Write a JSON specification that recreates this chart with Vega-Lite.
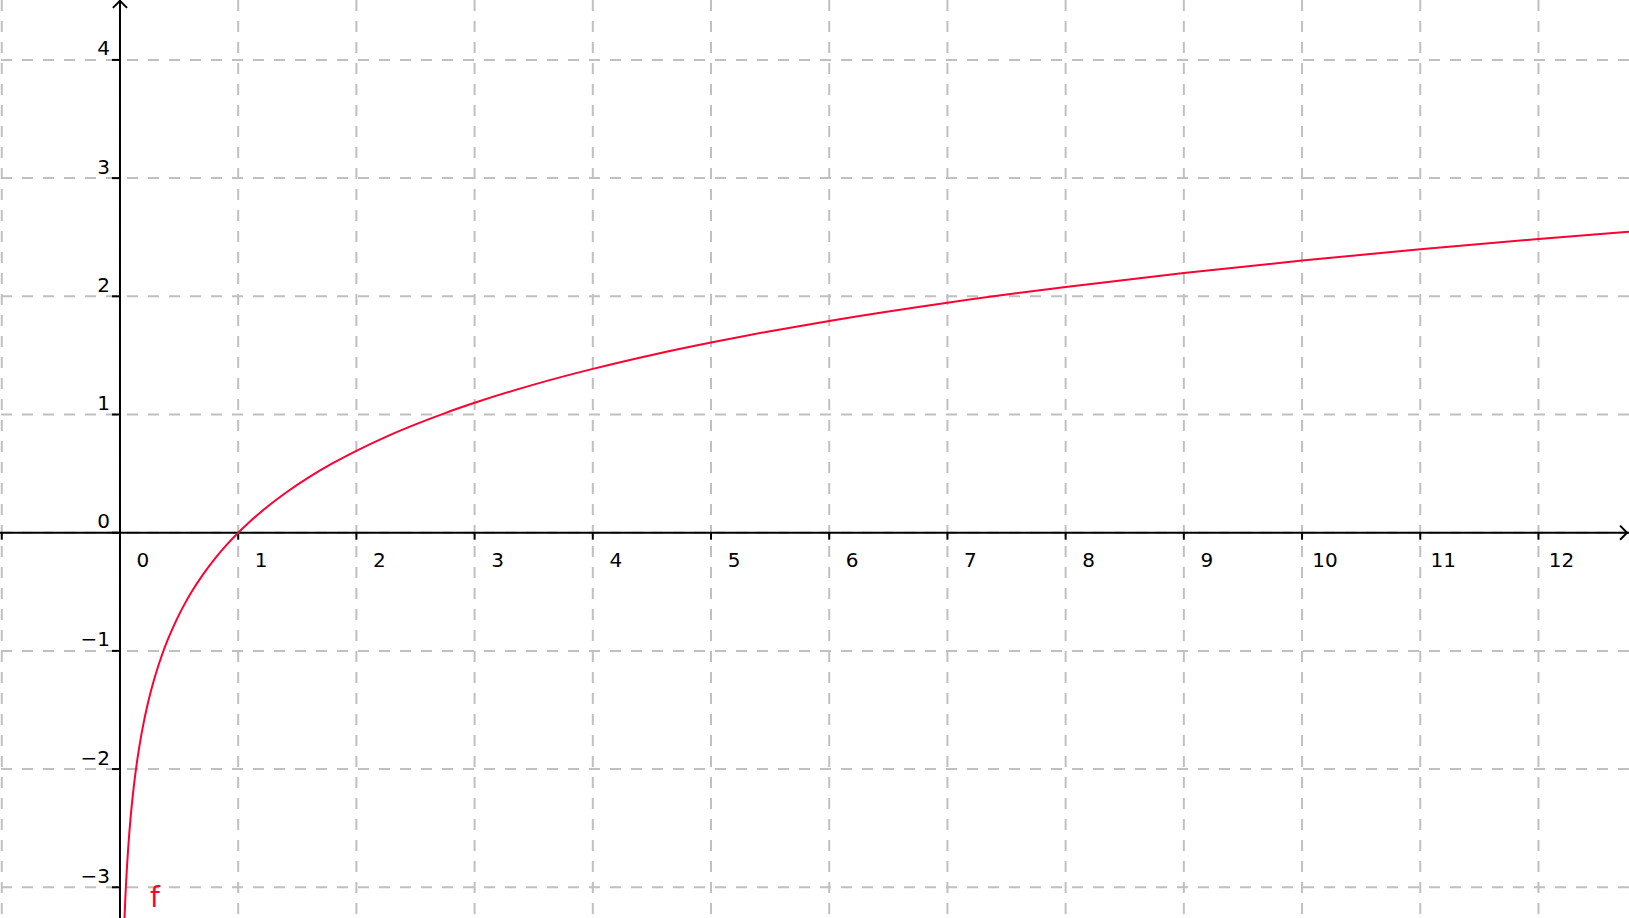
{
  "$schema": "https://vega.github.io/schema/vega-lite/v6.json",
  "width": 1629,
  "height": 918,
  "autosize": {"type": "none"},
  "padding": 0,
  "background": "white",
  "config": {"view": {"stroke": null}},
  "datasets": {
    "curve": [
      {"x": 0.0384, "y": -3.26}, {"x": 0.04, "y": -3.219}, {"x": 0.045, "y": -3.101}, {"x": 0.05, "y": -2.996},
      {"x": 0.055, "y": -2.900}, {"x": 0.06, "y": -2.813}, {"x": 0.07, "y": -2.659}, {"x": 0.08, "y": -2.526},
      {"x": 0.09, "y": -2.408}, {"x": 0.1, "y": -2.303}, {"x": 0.11, "y": -2.207}, {"x": 0.12, "y": -2.120},
      {"x": 0.14, "y": -1.966}, {"x": 0.16, "y": -1.833}, {"x": 0.18, "y": -1.715}, {"x": 0.2, "y": -1.609},
      {"x": 0.225, "y": -1.492}, {"x": 0.25, "y": -1.386}, {"x": 0.275, "y": -1.291}, {"x": 0.3, "y": -1.204},
      {"x": 0.35, "y": -1.050}, {"x": 0.4, "y": -0.916}, {"x": 0.45, "y": -0.799}, {"x": 0.5, "y": -0.693},
      {"x": 0.55, "y": -0.598}, {"x": 0.6, "y": -0.511}, {"x": 0.7, "y": -0.357}, {"x": 0.8, "y": -0.223},
      {"x": 0.9, "y": -0.105}, {"x": 1.0, "y": 0.0}, {"x": 1.1, "y": 0.095}, {"x": 1.2, "y": 0.182},
      {"x": 1.4, "y": 0.336}, {"x": 1.6, "y": 0.470}, {"x": 1.8, "y": 0.588}, {"x": 2.0, "y": 0.693},
      {"x": 2.25, "y": 0.811}, {"x": 2.5, "y": 0.916}, {"x": 2.75, "y": 1.012}, {"x": 3.0, "y": 1.099},
      {"x": 3.5, "y": 1.253}, {"x": 4.0, "y": 1.386}, {"x": 4.5, "y": 1.504}, {"x": 5.0, "y": 1.609},
      {"x": 5.5, "y": 1.705}, {"x": 6.0, "y": 1.792}, {"x": 7.0, "y": 1.946}, {"x": 8.0, "y": 2.079},
      {"x": 9.0, "y": 2.197}, {"x": 10.0, "y": 2.303}, {"x": 11.0, "y": 2.398}, {"x": 12.0, "y": 2.485},
      {"x": 12.8, "y": 2.549}
    ],
    "xticks": [
      {"x": -1, "label": ""}, {"x": 0, "label": "0"}, {"x": 1, "label": "1"}, {"x": 2, "label": "2"},
      {"x": 3, "label": "3"}, {"x": 4, "label": "4"}, {"x": 5, "label": "5"}, {"x": 6, "label": "6"},
      {"x": 7, "label": "7"}, {"x": 8, "label": "8"}, {"x": 9, "label": "9"}, {"x": 10, "label": "10"},
      {"x": 11, "label": "11"}, {"x": 12, "label": "12"}
    ],
    "yticks": [
      {"y": -3, "label": "−3"}, {"y": -2, "label": "−2"}, {"y": -1, "label": "−1"}, {"y": 0, "label": "0"},
      {"y": 1, "label": "1"}, {"y": 2, "label": "2"}, {"y": 3, "label": "3"}, {"y": 4, "label": "4"}
    ],
    "origin": [{"x": 0, "y": 0}],
    "arrowx": [{"x": 12.75, "y": 0}],
    "arrowy": [{"x": 0, "y": 4.5}],
    "flabel": [{"x": 0.254, "y": -3.164, "name": "f"}]
  },
  "layer": [
    {
      "data": {"name": "xticks"},
      "mark": {"type": "rule", "color": "#c0c0c0", "strokeWidth": 2, "strokeDash": [11, 10]},
      "encoding": {
        "x": {"field": "x", "type": "quantitative", "scale": {"domain": [-1.015, 12.766], "nice": false, "zero": false}, "axis": null}
      }
    },
    {
      "data": {"name": "yticks"},
      "mark": {"type": "rule", "color": "#c0c0c0", "strokeWidth": 2, "strokeDash": [11, 10]},
      "encoding": {
        "y": {"field": "y", "type": "quantitative", "scale": {"domain": [-3.26, 4.507], "nice": false, "zero": false}, "axis": null}
      }
    },
    {
      "data": {"name": "origin"},
      "mark": {"type": "rule", "color": "black", "strokeWidth": 2},
      "encoding": {
        "x": {"field": "x", "type": "quantitative", "scale": {"domain": [-1.015, 12.766], "nice": false, "zero": false}, "axis": null}
      }
    },
    {
      "data": {"name": "origin"},
      "mark": {"type": "rule", "color": "black", "strokeWidth": 2},
      "encoding": {
        "y": {"field": "y", "type": "quantitative", "scale": {"domain": [-3.26, 4.507], "nice": false, "zero": false}, "axis": null}
      }
    },
    {
      "data": {"name": "xticks"},
      "mark": {"type": "rule", "color": "black", "strokeWidth": 2, "y2Offset": 7},
      "encoding": {
        "x": {"field": "x", "type": "quantitative", "scale": {"domain": [-1.015, 12.766], "nice": false, "zero": false}, "axis": null},
        "y": {"datum": 0, "type": "quantitative", "scale": {"domain": [-3.26, 4.507], "nice": false, "zero": false}, "axis": null},
        "y2": {"datum": 0}
      }
    },
    {
      "data": {"name": "yticks"},
      "mark": {"type": "rule", "color": "black", "strokeWidth": 2, "x2Offset": -8},
      "encoding": {
        "y": {"field": "y", "type": "quantitative", "scale": {"domain": [-3.26, 4.507], "nice": false, "zero": false}, "axis": null},
        "x": {"datum": 0, "type": "quantitative", "scale": {"domain": [-1.015, 12.766], "nice": false, "zero": false}, "axis": null},
        "x2": {"datum": 0}
      }
    },
    {
      "data": {"name": "xticks"},
      "mark": {"type": "text", "font": "DejaVu Sans", "fontSize": 20, "color": "black", "align": "center", "baseline": "alphabetic", "dx": 23, "dy": 34.5},
      "encoding": {
        "x": {"field": "x", "type": "quantitative", "scale": {"domain": [-1.015, 12.766], "nice": false, "zero": false}, "axis": null},
        "y": {"datum": 0, "type": "quantitative", "scale": {"domain": [-3.26, 4.507], "nice": false, "zero": false}, "axis": null},
        "text": {"field": "label"}
      }
    },
    {
      "data": {"name": "yticks"},
      "mark": {"type": "text", "font": "DejaVu Sans", "fontSize": 20, "color": "black", "align": "right", "baseline": "alphabetic", "dx": -10, "dy": -4.5},
      "encoding": {
        "y": {"field": "y", "type": "quantitative", "scale": {"domain": [-3.26, 4.507], "nice": false, "zero": false}, "axis": null},
        "x": {"datum": 0, "type": "quantitative", "scale": {"domain": [-1.015, 12.766], "nice": false, "zero": false}, "axis": null},
        "text": {"field": "label"}
      }
    },
    {
      "data": {"name": "arrowx"},
      "mark": {"type": "point", "shape": "M -1 -1 L 0 0 L -1 1", "size": 200, "filled": false, "stroke": "black", "strokeWidth": 2, "opacity": 1},
      "encoding": {
        "x": {"field": "x", "type": "quantitative", "scale": {"domain": [-1.015, 12.766], "nice": false, "zero": false}, "axis": null},
        "y": {"field": "y", "type": "quantitative", "scale": {"domain": [-3.26, 4.507], "nice": false, "zero": false}, "axis": null}
      }
    },
    {
      "data": {"name": "arrowy"},
      "mark": {"type": "point", "shape": "M -1 1 L 0 0 L 1 1", "size": 200, "filled": false, "stroke": "black", "strokeWidth": 2, "opacity": 1},
      "encoding": {
        "x": {"field": "x", "type": "quantitative", "scale": {"domain": [-1.015, 12.766], "nice": false, "zero": false}, "axis": null},
        "y": {"field": "y", "type": "quantitative", "scale": {"domain": [-3.26, 4.507], "nice": false, "zero": false}, "axis": null}
      }
    },
    {
      "data": {"name": "curve"},
      "mark": {"type": "line", "color": "#ff0033", "strokeWidth": 2, "interpolate": "monotone", "clip": true},
      "encoding": {
        "x": {"field": "x", "type": "quantitative", "scale": {"domain": [-1.015, 12.766], "nice": false, "zero": false}, "axis": null},
        "y": {"field": "y", "type": "quantitative", "scale": {"domain": [-3.26, 4.507], "nice": false, "zero": false}, "axis": null}
      }
    },
    {
      "data": {"name": "flabel"},
      "mark": {"type": "text", "font": "DejaVu Sans", "fontSize": 28, "color": "#ff0033", "align": "left", "baseline": "alphabetic"},
      "encoding": {
        "x": {"field": "x", "type": "quantitative", "scale": {"domain": [-1.015, 12.766], "nice": false, "zero": false}, "axis": null},
        "y": {"field": "y", "type": "quantitative", "scale": {"domain": [-3.26, 4.507], "nice": false, "zero": false}, "axis": null},
        "text": {"field": "name"}
      }
    }
  ]
}
